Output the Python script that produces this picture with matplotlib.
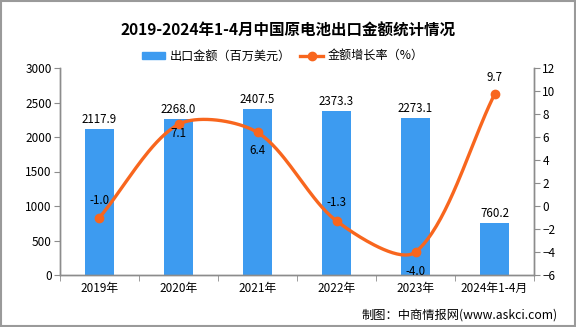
import numpy as np
import matplotlib
matplotlib.use("Agg")
import matplotlib.pyplot as plt
from matplotlib.patches import Rectangle
from matplotlib.lines import Line2D
from matplotlib.patches import Patch

plt.rcParams['font.family'] = ['Noto Sans CJK SC', 'DejaVu Sans']

categories = ["2019年", "2020年", "2021年", "2022年", "2023年", "2024年1-4月"]
export_value = [2117.9, 2268.0, 2407.5, 2373.3, 2273.1, 760.2]
growth_rate = [-1.0, 7.1, 6.4, -1.3, -4.0, 9.7]
left_ticks = [0, 500, 1000, 1500, 2000, 2500, 3000]
right_ticks = [-6, -4, -2, 0, 2, 4, 6, 8, 10, 12]

# label offsets for the line (points): positive = above
rate_label_dy = [12.2, -6.5, -13, 13, -13.7, 12.2]

BAR_C = "#3d9bf0"
LINE_C = "#f8661e"
AX_C = "#8c8c8c"

W, H = 576, 327
AX_L, AX_R, AX_T, AX_B = 60, 534, 68, 275


def smooth_bezier(x, y, sx, sy, smooth=0.3, n=40):
    """Bezier smoothing (control points from neighbours) in pixel space."""
    P = np.column_stack([np.asarray(x, float) * sx, np.asarray(y, float) * sy])
    m = len(P)
    cps = []
    for i in range(m):
        cur = P[i]
        prev = P[i - 1] if i > 0 else cur
        nxt = P[i + 1] if i < m - 1 else cur
        v = (nxt - prev) * smooth
        d0 = np.hypot(*(cur - prev)); d1 = np.hypot(*(cur - nxt))
        s = d0 + d1
        if s > 0:
            d0 /= s; d1 /= s
        cps.append((cur - v * d0, cur + v * d1))
    out = []
    t = np.linspace(0, 1, n)[:, None]
    for i in range(m - 1):
        p0 = P[i]; p3 = P[i + 1]
        c1 = cps[i][1]; c2 = cps[i + 1][0]
        seg = ((1 - t) ** 3) * p0 + 3 * ((1 - t) ** 2) * t * c1 + 3 * (1 - t) * t ** 2 * c2 + t ** 3 * p3
        out.append(seg if i == 0 else seg[1:])
    out = np.vstack(out)
    return out[:, 0] / sx, out[:, 1] / sy


fig = plt.figure(figsize=(5.76, 3.27), dpi=100)
ax = fig.add_axes([AX_L / W, (H - AX_B) / H, (AX_R - AX_L) / W, (AX_B - AX_T) / H])
ax2 = ax.twinx()

x = np.arange(len(categories))
ax.bar(x, export_value, width=0.367, color=BAR_C, zorder=2)
for xi, v in zip(x, export_value):
    ax.annotate(f"{v:.1f}", (xi, v), xytext=(0, 2), textcoords="offset points",
                ha="center", va="bottom", fontsize=8.3, color="black")

ax.set_xlim(-0.5, len(categories) - 0.5)
ax.set_ylim(0, 3000)
ax.set_yticks(left_ticks)
ax.set_xticks(x)
ax.set_xticklabels(categories, fontsize=8.5)
ax.set_xticks(np.arange(-0.5, len(categories)), minor=True)
ax.tick_params(axis='x', which='major', length=0, pad=5)
ax.tick_params(axis='x', which='minor', length=4, color=AX_C)
ax.tick_params(axis='y', length=4, color=AX_C, labelsize=8.5, pad=2)

ax2.set_ylim(-6, 12)
ax2.set_yticks(right_ticks)
ax2.tick_params(axis='y', length=4, color=AX_C, labelsize=8.5, pad=2)

px_per_x = (AX_R - AX_L) / len(categories)
px_per_y = (AX_B - AX_T) / 18.0
xs, ys = smooth_bezier(x, growth_rate, px_per_x, px_per_y)
ax2.plot(xs, ys, color=LINE_C, lw=2.4, zorder=3, solid_capstyle='round')
ax2.plot(x, growth_rate, 'o', color=LINE_C, ms=6, zorder=4)
for xi, v, dy in zip(x, growth_rate, rate_label_dy):
    ax2.annotate(f"{v:.1f}", (xi, v), xytext=(0, dy), textcoords="offset points",
                 ha="center", va="center", fontsize=8.3, color="black", zorder=5)

for a in (ax, ax2):
    a.spines["top"].set_visible(False)
    for s in ("left", "right", "bottom"):
        a.spines[s].set_color(AX_C)
        a.spines[s].set_linewidth(1)

fig.text(288 / W, (H - 31) / H, "2019-2024年1-4月中国原电池出口金额统计情况",
         ha="center", va="center", fontsize=11.2, fontweight="bold")

handles = [Patch(facecolor=BAR_C, edgecolor=BAR_C),
           Line2D([0], [0], color=LINE_C, lw=2.4, marker='o', ms=6)]
fig.legend(handles, ["出口金额（百万美元）", "金额增长率（%）"], loc="center",
           bbox_to_anchor=(283 / W, (H - 56) / H), ncol=2, frameon=False,
           fontsize=8.7, handlelength=1.9, handleheight=0.55, columnspacing=0.8,
           handletextpad=0.35, borderpad=0.2)

fig.text(558 / W, (H - 315) / H, "制图：中商情报网(www.askci.com)", ha="right",
         va="center", fontsize=8.8)

fig.patches.append(Rectangle((0.75 / W, 0.75 / H), 1 - 2 / W, 1 - 2 / H,
                             transform=fig.transFigure, fill=False,
                             edgecolor="#9a9a9a", lw=1.5))

fig.savefig("out.png", dpi=100)
